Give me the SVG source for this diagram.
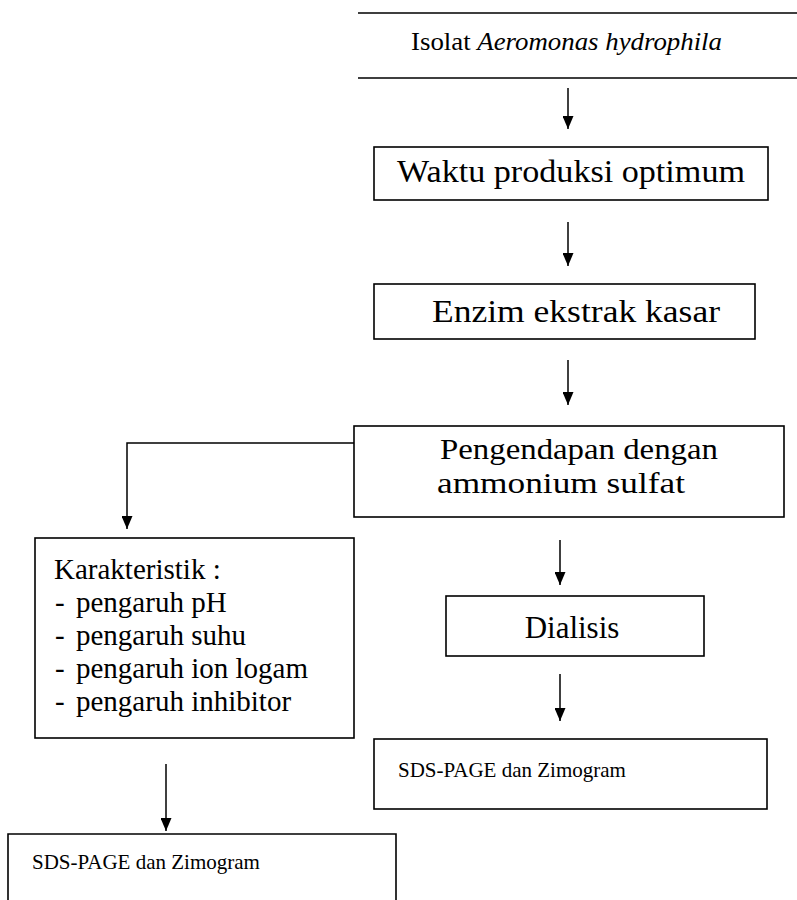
<svg xmlns="http://www.w3.org/2000/svg" width="797" height="900" viewBox="0 0 797 900">
<style>
.box{fill:none;stroke:#000;stroke-width:1.6}
.t{font-family:"Liberation Serif","Times New Roman",serif;fill:#000}
.c{fill:none;stroke:#000;stroke-width:1.5}
</style>
<defs>
<marker id="ah" markerUnits="userSpaceOnUse" markerWidth="13" markerHeight="11" viewBox="0 0 13 11" refX="13" refY="5.5" orient="auto">
<path d="M0 0 L13 5.5 L0 11 Z" fill="#000"/>
</marker>
</defs>
<rect width="797" height="900" fill="#fff"/>
<g id="n1">
<path class="box" d="M358 13 H797 M358 78 H797"/>
<text class="t" x="411" y="50" font-size="25" textLength="311" lengthAdjust="spacingAndGlyphs">Isolat <tspan font-style="italic">Aeromonas hydrophila</tspan></text>
</g>
<g id="n2">
<rect class="box" x="374" y="147" width="394" height="53"/>
<text class="t" x="397" y="182" font-size="31" textLength="348" lengthAdjust="spacingAndGlyphs">Waktu produksi optimum</text>
</g>
<g id="n3">
<rect class="box" x="374" y="284" width="381" height="55"/>
<text class="t" x="432" y="322" font-size="31" textLength="288" lengthAdjust="spacingAndGlyphs">Enzim ekstrak kasar</text>
</g>
<g id="n4">
<rect class="box" x="354" y="426" width="430" height="91"/>
<text class="t" x="440" y="459" font-size="29" textLength="278" lengthAdjust="spacingAndGlyphs">Pengendapan dengan</text>
<text class="t" x="437" y="493" font-size="29" textLength="248" lengthAdjust="spacingAndGlyphs">ammonium sulfat</text>
</g>
<g id="n5">
<rect class="box" x="35" y="538" width="319" height="200"/>
<text class="t" x="54" y="579" font-size="29">Karakteristik :</text>
<text class="t" x="55" y="612" font-size="29">-</text><text class="t" x="76" y="612" font-size="29">pengaruh pH</text>
<text class="t" x="55" y="645" font-size="29">-</text><text class="t" x="76" y="645" font-size="29">pengaruh suhu</text>
<text class="t" x="55" y="678" font-size="29">-</text><text class="t" x="76" y="678" font-size="29">pengaruh ion logam</text>
<text class="t" x="55" y="711" font-size="29">-</text><text class="t" x="76" y="711" font-size="29">pengaruh inhibitor</text>
</g>
<g id="n6">
<rect class="box" x="446" y="596" width="258" height="60"/>
<text class="t" x="572" y="638" font-size="31" text-anchor="middle">Dialisis</text>
</g>
<g id="n7">
<rect class="box" x="374" y="739" width="393" height="70"/>
<text class="t" x="398" y="777" font-size="21">SDS-PAGE dan Zimogram</text>
</g>
<g id="n8">
<path class="box" d="M8 901 V834 H396 V901"/>
<text class="t" x="32" y="869" font-size="21">SDS-PAGE dan Zimogram</text>
</g>
<g id="connectors">
<path class="c" d="M568 88 V129" marker-end="url(#ah)"/>
<path class="c" d="M568 222 V266" marker-end="url(#ah)"/>
<path class="c" d="M568 360 V405" marker-end="url(#ah)"/>
<path class="c" d="M354 443 H127 V529" marker-end="url(#ah)"/>
<path class="c" d="M560 540 V585" marker-end="url(#ah)"/>
<path class="c" d="M560 674 V721" marker-end="url(#ah)"/>
<path class="c" d="M166 764 V831" marker-end="url(#ah)"/>
</g>
</svg>
